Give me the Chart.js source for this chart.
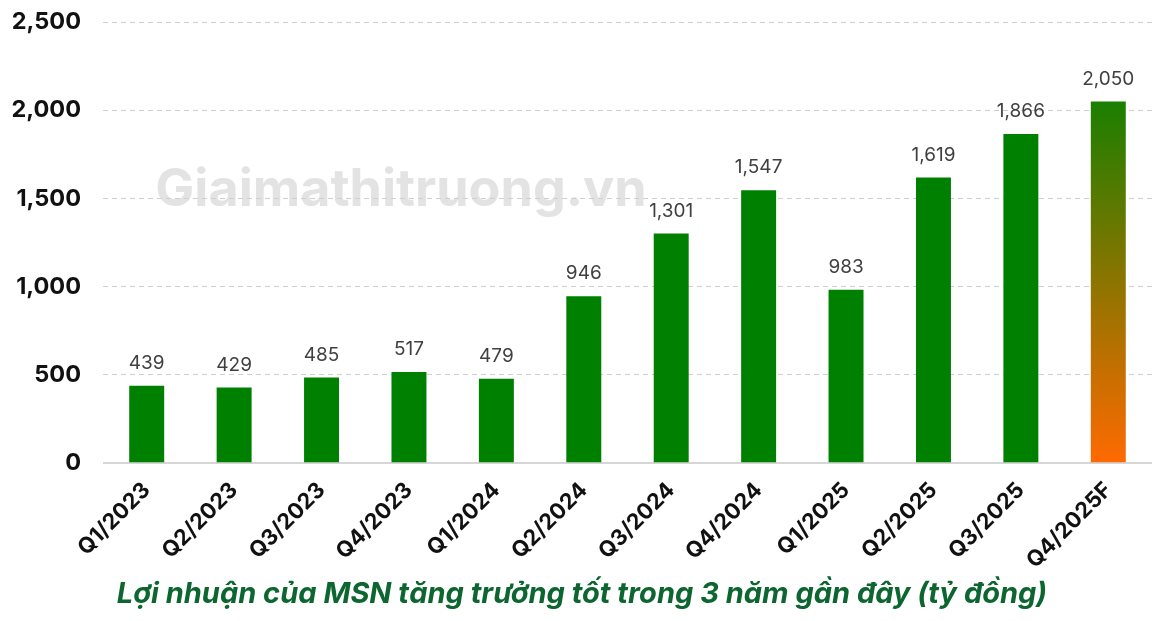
<!DOCTYPE html>
<html>
<head>
<meta charset="utf-8">
<script src="https://cdn.jsdelivr.net/npm/chart.js@4"></script>
<style>
    html, body { margin: 0; padding: 0; background: #ffffff; }
    #wrap { width: 1173px; height: 621px; }
</style>
</head>
<body>
<div id="wrap"><canvas id="profitChart" width="1173" height="621"></canvas></div>
<script>
// ===== 데이터 =====
const quarters = ['Q1/2023', 'Q2/2023', 'Q3/2023', 'Q4/2023', 'Q1/2024', 'Q2/2024',
    'Q3/2024', 'Q4/2024', 'Q1/2025', 'Q2/2025', 'Q3/2025', 'Q4/2025F'];
const profits = [439, 429, 485, 517, 479, 946, 1301, 1547, 983, 1619, 1866, 2050];
const yTicks = [0, 500, 1000, 1500, 2000, 2500];
const titleText = 'Lợi nhuận của MSN tăng trưởng tốt trong 3 năm gần đây (tỷ đồng)';
const watermarkText = 'Giaimathitruong.vn';

const FONT = 'Inter, "Noto Sans", sans-serif';
const GREEN = '#008000';

// 마지막 막대 (전망치) 그라데이션
function barColor(ctx) {
    const chart = ctx.chart;
    if (ctx.dataIndex !== profits.length - 1 || !chart.chartArea) return GREEN;
    const y = chart.scales.y;
    const g = chart.ctx.createLinearGradient(0, y.getPixelForValue(profits[ctx.dataIndex]), 0, y.getPixelForValue(0));
    g.addColorStop(0, '#1a7f00');
    g.addColorStop(1, '#ff6a00');
    return g;
}

// 워터마크
const watermarkPlugin = {
    id: 'watermark',
    beforeDraw(chart) {
        const c = chart.ctx;
        c.save();
        c.font = 'bold 52px ' + FONT;
        c.fillStyle = '#e3e3e3';
        c.textAlign = 'center';
        c.textBaseline = 'middle';
        c.fillText(watermarkText, 401, 190);
        c.restore();
    }
};

// 막대 위 값 라벨
const valueLabelPlugin = {
    id: 'valueLabels',
    afterDatasetsDraw(chart) {
        const c = chart.ctx;
        const meta = chart.getDatasetMeta(0);
        c.save();
        c.font = '19px ' + FONT;
        c.fillStyle = '#404040';
        c.textAlign = 'center';
        c.textBaseline = 'bottom';
        meta.data.forEach((bar, i) => {
            c.fillText(profits[i].toLocaleString('en-US'), bar.x, bar.y - 13);
        });
        c.restore();
    }
};

new Chart(document.getElementById('profitChart'), {
    type: 'bar',
    data: {
        labels: quarters,
        datasets: [{
            data: profits,
            backgroundColor: barColor,
            barPercentage: 0.4,
            categoryPercentage: 1.0
        }]
    },
    options: {
        responsive: false,
        animation: false,
        layout: { padding: { top: 22, right: 21, left: 12, bottom: 0 } },
        plugins: {
            legend: { display: false },
            tooltip: { enabled: false },
            title: {
                display: true,
                position: 'bottom',
                text: titleText,
                color: '#0d6630',
                font: { family: FONT, size: 29, weight: 'bold', style: 'italic' },
                padding: { top: 6, bottom: 9 }
            }
        },
        scales: {
            x: {
                grid: { display: false, drawTicks: false },
                border: { display: false },
                ticks: {
                    color: '#111111',
                    font: { family: FONT, size: 22, weight: 'bold' },
                    minRotation: 45,
                    maxRotation: 45,
                    padding: 14
                },
                afterFit: (scale) => { scale.height = 108; }
            },
            y: {
                min: 0,
                max: 2500,
                afterBuildTicks: (scale) => { scale.ticks = yTicks.map(v => ({ value: v })); },
                grid: {
                    drawTicks: false,
                    color: (ctx) => ctx.tick && ctx.tick.value === 0 ? '#d6d6d6' : '#cfcfcf',
                    lineWidth: (ctx) => ctx.tick && ctx.tick.value === 0 ? 2 : 1
                },
                border: {
                    display: false,
                    dash: (ctx) => ctx.tick && ctx.tick.value === 0 ? [] : [5, 4]
                },
                ticks: {
                    color: '#111111',
                    font: { family: FONT, size: 23.5, weight: 'bold' },
                    padding: 22,
                    callback: (v) => v.toLocaleString('en-US')
                },
                afterFit: (scale) => {
                    scale.width = 91;
                    scale.paddingTop = 0;
                    scale.paddingBottom = 0;
                }
            }
        }
    },
    plugins: [watermarkPlugin, valueLabelPlugin]
});
</script>
</body>
</html>
